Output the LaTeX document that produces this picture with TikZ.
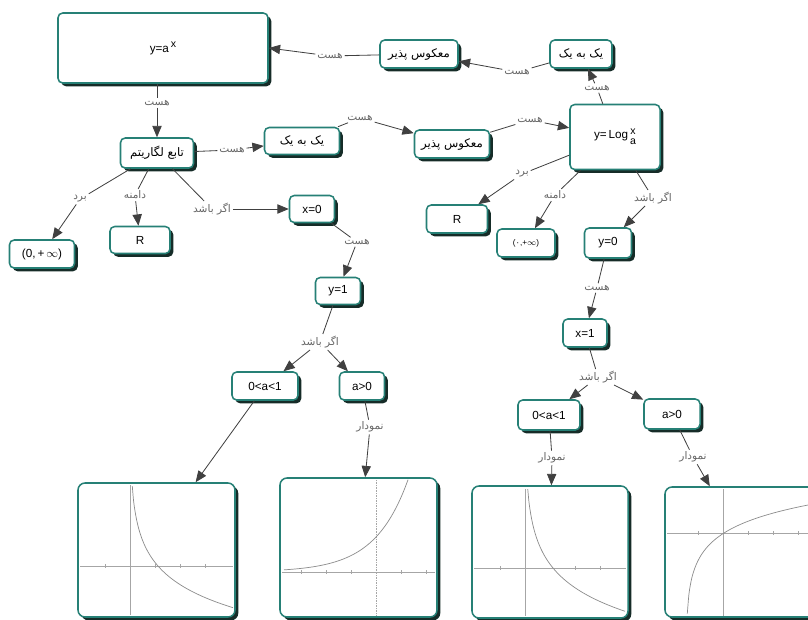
\documentclass[tikz,border=0pt]{standalone}
\usepackage{fontspec}
\setmainfont{Liberation Sans}
\newfontfamily\fafont[Script=Arabic]{DejaVu Sans}
\TeXXeTstate=1
\usetikzlibrary{arrows.meta, shadows}

\definecolor{cmteal}{RGB}{38,128,118}
\definecolor{cmshade}{RGB}{22,44,40}
\newcommand{\fa}[1]{{\fafont\beginR #1\endR}}

\begin{document}
\begin{tikzpicture}[x=0.3mm, y=-0.3mm,
        concept/.style={rectangle, draw=cmteal, line width=1.3pt, fill=white, rounded corners=4pt, align=center, inner sep=1pt, minimum height=8.4mm, font=\fontsize{10}{12}\selectfont, drop shadow={shadow xshift=2.8pt, shadow yshift=-2.8pt, fill=cmshade, opacity=1}},
        graphbox/.style={concept, rounded corners=6pt},
        link/.style={font=\fontsize{9}{11}\selectfont, text=black!60, inner sep=1.5pt},
        line/.style={draw=black!75, line width=0.7pt},
        arrow/.style={line, -{Triangle[length=3.4mm, width=2.8mm]}},
        axis/.style={draw=black!35, line width=0.4pt},
        curve/.style={draw=black!45, line width=0.6pt}
    ]
    \useasboundingbox (0,0) rectangle (808,619);

    % exponential side
    \node[concept, minimum width=63mm, minimum height=21mm] (expfn) at (163,48) {y=a\,\raisebox{0.8ex}{\fontsize{9}{9}\selectfont x}};
    \node[concept, minimum width=23.4mm] (inv1) at (419,54) {\fa{معکوس پذیر}};
    \node[concept, minimum width=18.6mm] (oto1) at (581,54) {\fa{یک به یک}};
    \node[concept, minimum width=21.9mm, minimum height=9mm] (logfn) at (157,153) {\fa{تابع لگاریتم}};
    \node[concept, minimum width=22.5mm, minimum height=8.1mm] (oto2) at (302,141) {\fa{یک به یک}};
    \node[concept, minimum width=22.5mm] (inv2) at (452,144) {\fa{معکوس پذیر}};
    \node[concept, minimum width=27mm, minimum height=19.5mm] (logbox) at (615,137) {y=\,Log\,\raisebox{-0.2ex}{\fontsize{9}{10}\selectfont\begin{tabular}{@{}c@{}}x\\[-1pt]a\end{tabular}}};

    \node[concept, minimum width=19.5mm] (rng1) at (42,254) {(0,\,+\,$\infty$)};
    \node[concept, minimum width=18mm, minimum height=8.1mm] (dom1) at (140,240) {R};
    \node[concept, minimum width=13.5mm, minimum height=8.1mm] (xzero) at (312,209) {x=0};
    \node[concept, minimum width=13.5mm, minimum height=8.1mm] (yone) at (338,291) {y=1};
    \node[concept, minimum width=19.8mm] (lowa1) at (265,386) {0<a<1};
    \node[concept, minimum width=13.5mm] (biga1) at (362,386) {a>0};

    % logarithm side
    \node[concept, minimum width=18.3mm] (dom2) at (457,219) {R};
    \node[concept, minimum width=17.4mm] (rng2) at (526,243) {\fontsize{7}{8}\selectfont({\fafont ۰},+$\infty$)};
    \node[concept, minimum width=14.1mm, minimum height=9mm] (yzero) at (608,243) {y=0};
    \node[concept, minimum width=13.2mm] (xone) at (585,333) {x=1};
    \node[concept, minimum width=18.6mm, minimum height=9mm] (lowa2) at (549,415) {0<a<1};
    \node[concept, minimum width=16.8mm, minimum height=9mm] (biga2) at (672,414) {a>0};

    % graph boxes
    \node[graphbox, minimum width=47.1mm, minimum height=40.2mm] (graph1) at (156.5,550) {};
    \node[graphbox, minimum width=47.1mm, minimum height=41.7mm] (graph2) at (358.5,547.5) {};
    \node[graphbox, minimum width=46.8mm, minimum height=39.6mm] (graph3) at (550,552) {};
    \node[graphbox, minimum width=49.5mm, minimum height=39mm] (graph4) at (747.5,552) {};

    % plots
    \draw[axis] (80,566) -- (233,566);
    \draw[axis] (130,485) -- (130,615);
    \foreach \t in {105,155,180,205} \draw[axis] (\t,564) -- (\t,568);
    \draw[curve] plot[domain=2.3:103, samples=80, smooth] ({130+\x},{566+32*ln(\x/28)});

    \draw[axis] (282,572) -- (435,572);
    \draw[axis, densely dotted] (376,480) -- (376,615);
    \foreach \t in {301,326,351,401,426} \draw[axis] (\t,570) -- (\t,574);
    \draw[curve] plot[domain=-92:32, samples=60, smooth] ({376+\x},{572-35*exp(\x/33)});

    \draw[axis] (474,568) -- (626,568);
    \draw[axis] (525,489) -- (525,616);
    \foreach \t in {500,575,600} \draw[axis] (\t,566) -- (\t,570);
    \draw[curve] plot[domain=2.75:100, samples=80, smooth] ({525+\x},{568+34*ln(\x/28)});

    \draw[axis] (667,533) -- (808,533);
    \draw[axis] (723,489) -- (723,616);
    \foreach \t in {698,748,773,798} \draw[axis] (\t,531) -- (\t,535);
    \draw[curve] plot[domain=1.3:122, samples=80, smooth] ({686+\x},{533-24*ln(\x/38)});

    % linking phrases
    \node[link] (hA) at (517,72) {\fa{هست}};
    \node[link] (hB) at (330,56) {\fa{هست}};
    \node[link] (hC) at (597,88) {\fa{هست}};
    \node[link] (hD) at (157,103) {\fa{هست}};
    \node[link] (hE) at (232,150) {\fa{هست}};
    \node[link] (hF) at (360,118) {\fa{هست}};
    \node[link] (hG) at (530,120) {\fa{هست}};
    \node[link] (lR1) at (80,199) {\fa{برد}};
    \node[link] (lD1) at (135,195) {\fa{دامنه}};
    \node[link] (lI1) at (212,209) {\fa{اگر باشد}};
    \node[link] (lH2) at (357,242) {\fa{هست}};
    \node[link] (lI2) at (320,342) {\fa{اگر باشد}};
    \node[link] (lG2) at (370,427) {\fa{نمودار}};
    \node[link] (lR2) at (522,174) {\fa{برد}};
    \node[link] (lD2) at (555,195) {\fa{دامنه}};
    \node[link] (lI3) at (653,198) {\fa{اگر باشد}};
    \node[link] (lH3) at (597,288) {\fa{هست}};
    \node[link] (lI4) at (598,377) {\fa{اگر باشد}};
    \node[link] (lG3) at (552,458) {\fa{نمودار}};
    \node[link] (lG4) at (693,457) {\fa{نمودار}};

    % connectors
    \draw[line] (oto1) -- (hA);
    \draw[arrow] (hA) -- (inv1);
    \draw[line] (inv1) -- (hB);
    \draw[arrow] (hB) -- (expfn.east);
    \draw[line] (logbox) -- (hC);
    \draw[arrow] (hC) -- (oto1);
    \draw[line] (expfn.south -| hD) -- (hD);
    \draw[arrow] (hD) -- (logfn);
    \draw[line] (logfn) -- (hE);
    \draw[arrow] (hE) -- (oto2);
    \draw[line] (oto2) -- (hF);
    \draw[arrow] (hF) -- (inv2);
    \draw[line] (inv2) -- (hG);
    \draw[arrow] (hG) -- (logbox);

    \draw[line] (logfn) -- (lR1);
    \draw[arrow] (lR1) -- (rng1);
    \draw[line] (logfn) -- (lD1);
    \draw[arrow] (lD1) -- (dom1);
    \draw[line] (logfn) -- (lI1);
    \draw[arrow] (lI1) -- (xzero);
    \draw[line] (xzero) -- (lH2);
    \draw[arrow] (lH2) -- (yone);
    \draw[line] (yone) -- (lI2);
    \draw[arrow] (lI2) -- (lowa1);
    \draw[arrow] (lI2) -- (biga1);
    \draw[arrow] (lowa1) -- (graph1.60);
    \draw[line] (biga1) -- (lG2);
    \draw[arrow] (lG2) -- (graph2);

    \draw[line] (logbox) -- (lR2);
    \draw[arrow] (lR2) -- (dom2);
    \draw[line] (logbox) -- (lD2);
    \draw[arrow] (lD2) -- (rng2);
    \draw[line] (logbox) -- (lI3);
    \draw[arrow] (lI3) -- (yzero);
    \draw[line] (yzero) -- (lH3);
    \draw[arrow] (lH3) -- (xone);
    \draw[line] (xone) -- (lI4);
    \draw[arrow] (lI4) -- (lowa2);
    \draw[arrow] (lI4) -- (biga2);
    \draw[line] (lowa2) -- (lG3);
    \draw[arrow] (lG3) -- (graph3);
    \draw[line] (biga2) -- (lG4);
    \draw[arrow] (lG4) -- (graph4);
\end{tikzpicture}
\end{document}
